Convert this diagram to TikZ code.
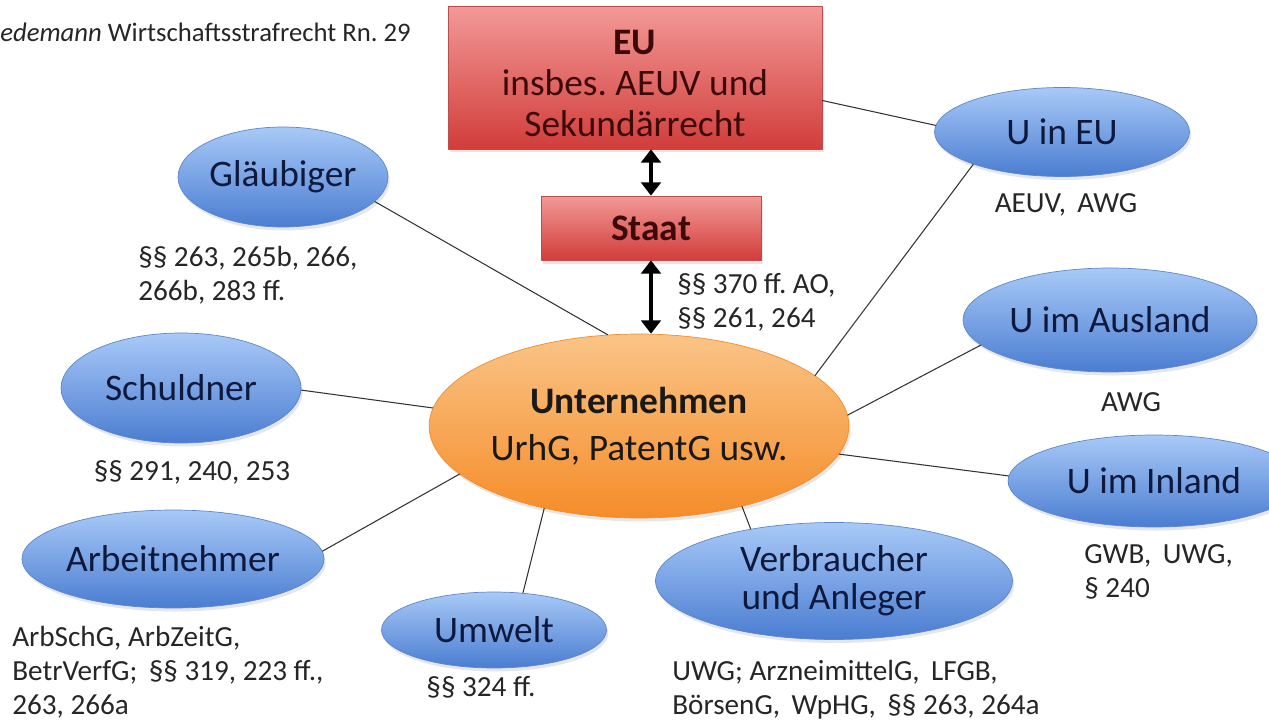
\documentclass[tikz,border=0pt]{standalone}
\usepackage{fontspec}
\setmainfont{Carlito}
\usepackage{tikz}
\usetikzlibrary{arrows,arrows.meta,shapes.geometric,shadows}
\frenchspacing
\definecolor{rothell}{rgb}{0.95,0.6,0.59}
\definecolor{rotdunkel}{rgb}{0.82,0.24,0.23}
\definecolor{rotrand}{rgb}{0.75,0.3,0.3}
\definecolor{blauhell}{rgb}{0.66,0.79,0.97}
\definecolor{blaudunkel}{rgb}{0.29,0.49,0.82}
\definecolor{blaurand}{rgb}{0.36,0.53,0.8}
\definecolor{orangehell}{rgb}{0.98,0.77,0.53}
\definecolor{orangedunkel}{rgb}{0.96,0.55,0.16}
\definecolor{blauschrift}{rgb}{0.06,0.1,0.24}
\definecolor{rotschrift}{rgb}{0.24,0.04,0.04}
\tikzset{
  beteiligter/.style={ellipse,inner sep=0pt,align=center,top color=blauhell,bottom color=blaudunkel,
    draw=blaurand,line width=0.4pt,text=blauschrift,font=\fontsize{21.3}{21.8}\selectfont,
    drop shadow={shadow xshift=1pt,shadow yshift=-2pt,opacity=0.2}},
  ebene/.style={rectangle,inner sep=0pt,align=center,top color=rothell,bottom color=rotdunkel,
    draw=rotrand,line width=0.4pt,text=rotschrift,font=\fontsize{21.3}{23.3}\selectfont,
    drop shadow={shadow xshift=1pt,shadow yshift=-2pt,opacity=0.2}},
  norm/.style={inner sep=0pt,align=left,text=black!85,font=\fontsize{16.6}{19.3}\selectfont},
  verbindung/.style={line width=0.6pt,color=black!80},
  pfeil/.style={{Triangle[length=7.5pt,width=11pt]}-{Triangle[length=7.5pt,width=11pt]},line width=2.3pt}
}
\begin{document}
\begin{tikzpicture}[line cap=round,line join=round,>=triangle 45,x=0.02cm,y=-0.02cm]
\useasboundingbox (0,0) rectangle (1269,723);
\clip (0,0) rectangle (1269,723);
\node[norm,anchor=west,font=\fontsize{15.2}{18}\selectfont] (quelle) at (0,32) {\textit{edemann} Wirtschaftsstrafrecht Rn. 29};
% Ebenen
\node[ebene,minimum width=7.48cm,minimum height=2.86cm] (eu) at (635,77.5) {\rule{0pt}{20.5pt}\textbf{EU}\\ insbes. AEUV und\\ Sekundärrecht};
\node[ebene,minimum width=4.4cm,minimum height=1.28cm] (staat) at (651,228) {\textbf{Staat}};
% Unternehmen
\node[ellipse,inner sep=0pt,align=center,minimum width=7.32cm,minimum height=3.68cm,
  top color=orangehell,bottom color=orangedunkel,draw=orangedunkel,line width=0.4pt,text=black!90,
  font=\fontsize{21.3}{26.7}\selectfont,drop shadow={shadow xshift=1pt,shadow yshift=-2pt,opacity=0.2}]
  (unt) at (639,426) {\textbf{Unternehmen}\\ UrhG, PatentG usw.};
% Beteiligte
\node[beteiligter,minimum width=4.2cm,minimum height=2cm] (glaeub) at (283,177) {Gläubiger};
\node[beteiligter,minimum width=4.8cm,minimum height=2.2cm] (schuld) at (181,388) {Schuldner};
\node[beteiligter,minimum width=5.3cm,minimum height=1.96cm] (arbeit) at (173,559) {Arbeitnehmer};
\node[beteiligter,minimum width=4.5cm,minimum height=1.52cm] (umwelt) at (494,630) {Umwelt};
\node[beteiligter,minimum width=7.14cm,minimum height=2.34cm] (verbr) at (834,581) {Verbraucher\\ und Anleger};
\node[beteiligter,minimum width=5.84cm,minimum height=1.84cm] (uinl) at (1154,481) {U im Inland};
\node[beteiligter,minimum width=5.88cm,minimum height=2.08cm] (uausl) at (1110,320) {U im Ausland};
\node[beteiligter,minimum width=5.1cm,minimum height=1.78cm] (ueu) at (1062,132) {U in EU};
% Normen
\node[norm,anchor=west] (lglaeub) at (138,275) {§§ 263, 265b, 266,\\ 266b, 283 ff.};
\node[norm] (lschuld) at (192,472) {§§ 291, 240, 253};
\node[norm,anchor=west] (larbeit) at (12,672) {ArbSchG, ArbZeitG,\\ BetrVerfG;\, §§ 319, 223 ff.,\\ 263, 266a};
\node[norm] (lumwelt) at (481,687) {§§ 324 ff.};
\node[norm,anchor=west] (lverbr) at (672,690) {UWG; ArzneimittelG,\, LFGB,\\ BörsenG,\, WpHG,\, §§ 263, 264a};
\node[norm,anchor=west] (luinl) at (1084,572) {GWB,\, UWG,\\ § 240};
\node[norm] (luausl) at (1131,402) {AWG};
\node[norm] (lueu) at (1066,205) {AEUV,\, AWG};
\node[norm,anchor=west] (lstaat) at (677,302) {§§ 370 ff. AO,\\ §§ 261, 264};
% Pfeile
\draw[pfeil] (staat.north) -- (staat.north |- eu.south);
\draw[pfeil] (staat.south) -- (staat.south |- unt.north);
% Verbindungen
\draw[verbindung] (glaeub.-15.6) -- (unt.109.8);
\draw[verbindung] (schuld.-1.4) -- (unt.175);
\draw[verbindung] (arbeit.3.9) -- (unt.195.8);
\draw[verbindung] (umwelt.52.7) -- (unt.221.7);
\draw[verbindung] (verbr.148.6) -- (unt.-38);
\draw[verbindung] (uinl.178.8) -- (unt.-8.6);
\draw[verbindung] (uausl.191.6) -- (unt.3.5);
\draw[verbindung] (ueu.200) -- (unt.16.2);
\draw[verbindung] (eu.-7.5) -- (ueu.177.7);
\end{tikzpicture}
\end{document}
